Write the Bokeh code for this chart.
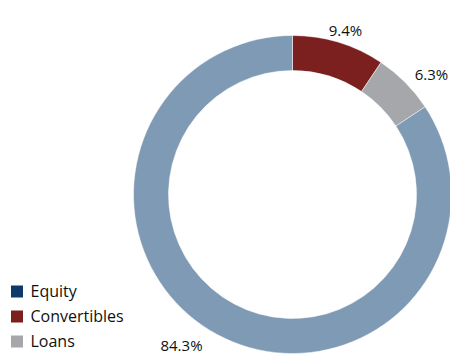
import math
from bokeh.plotting import figure
from bokeh.models import Range1d, ColumnDataSource
from bokeh.core.properties import value
from bokeh.embed import file_html
from bokeh.resources import INLINE

# ---- data ----
categories = ["Convertibles", "Loans", "Equity"]
shares = [9.4, 6.3, 84.3]
labels = ["9.4%", "6.3%", "84.3%"]
slice_colors = ["#7b1f1f", "#a6a7aa", "#7f9ab4"]

legend_names = ["Equity", "Convertibles", "Loans"]
legend_colors = ["#0e3a6b", "#7b1f1f", "#a6a7aa"]

# ---- layout (picture pixel coords, y measured from top) ----
W, H = 450, 354
def px(x):
    return x
def py(y):
    return H - y

cx, cy = 292, 194
r_in, r_out = 124, 159
label_pos = [(345, 29), (431, 73), (181, 344)]  # text centre x, baseline y

p = figure(width=W, height=H, output_backend="svg", toolbar_location=None,
           x_range=Range1d(0, W), y_range=Range1d(0, H),
           min_border=0)
p.axis.visible = False
p.grid.visible = False
p.outline_line_color = None
p.background_fill_color = "white"
p.border_fill_color = "white"

total = sum(shares)
starts, ends = [], []
acc = 0.0
for s in shares:
    a0 = math.pi / 2 - 2 * math.pi * acc / total
    acc += s
    a1 = math.pi / 2 - 2 * math.pi * acc / total
    starts.append(a0)
    ends.append(a1)

src = ColumnDataSource(dict(start=starts, end=ends, color=slice_colors))
p.annular_wedge(x=px(cx), y=py(cy), inner_radius=r_in, outer_radius=r_out,
                start_angle="start", end_angle="end", direction="clock",
                fill_color="color", line_color="white", line_width=0.5,
                source=src)

lsrc = ColumnDataSource(dict(x=[px(a) for a, b in label_pos],
                             y=[py(b) for a, b in label_pos], t=labels))
p.text(x="x", y="y", text="t", source=lsrc, text_align="center",
       text_baseline="alphabetic", text_font=value("Open Sans"),
       text_font_size="15px", text_color="#111111")

# legend
leg_y = [291, 316, 341]
p.rect(x=[16.5] * 3, y=[py(v) for v in leg_y], width=12, height=12,
       fill_color=legend_colors, line_color=None)
p.text(x=[30] * 3, y=[py(v) + 0.5 for v in leg_y], text=legend_names,
       text_align="left", text_baseline="middle",
       text_font=value("Open Sans"), text_font_size="16px",
       text_color="#111111")

open("out.html", "w").write(file_html(p, INLINE))
